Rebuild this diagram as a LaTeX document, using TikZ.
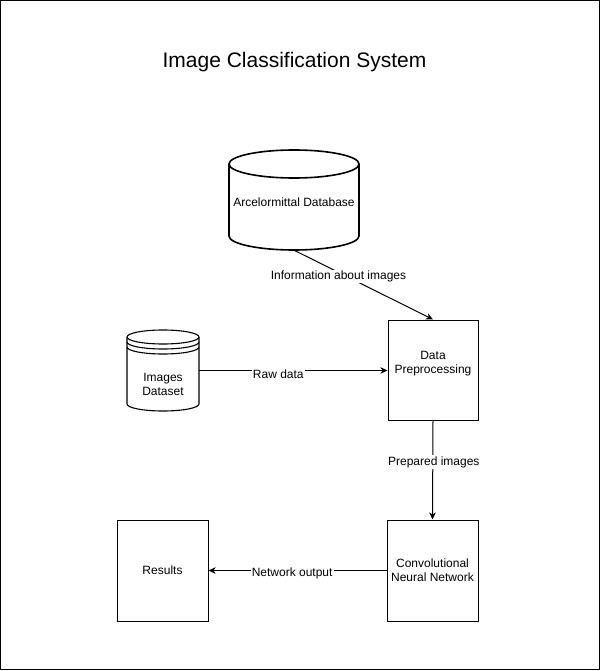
\documentclass[tikz,border=0pt]{standalone}
\usepackage{fontspec}
\setmainfont{Liberation Sans}
\usetikzlibrary{arrows.meta}
\begin{document}
\begin{tikzpicture}[x=1pt,y=-1pt,
  boxnode/.style={draw,line width=1pt,minimum width=91pt,minimum height=101pt,inner sep=0pt,align=center,font=\fontsize{12}{14}\selectfont},
  ghost/.style={inner sep=0pt,align=center,font=\fontsize{12}{14}\selectfont},
  cyl/.style={line width=1.6pt},
  conn/.style={line width=1pt,-{Stealth[length=7pt,width=6.5pt,inset=2pt]}},
  elabel/.style={fill=white,inner sep=1pt,font=\fontsize{12}{14}\selectfont}]
\useasboundingbox (0,0) rectangle (601,671);
\draw[line width=1pt] (0.5,0.5) rectangle (599.5,669.5);
% title
\node[font=\fontsize{21}{25}\selectfont] (title) at (294.5,62) {Image Classification System};
% big cylinder
\node[ghost,minimum width=130pt,minimum height=100pt] (db) at (294,200) {};
\draw[cyl] (294,164) ellipse [x radius=65,y radius=14];
\draw[cyl] (229,164) -- (229,236) arc[start angle=180,end angle=0,x radius=65,y radius=14] -- (359,164);
\node[ghost] (dbt) at (294,202) {Arcelormittal Database};
% datastore
\node[ghost,minimum width=72pt,minimum height=81pt] (ds) at (163,370.5) {};
\draw[line width=1.1pt] (163,337) ellipse [x radius=36,y radius=7];
\draw[line width=1.1pt] (127,342) arc[start angle=180,end angle=0,x radius=36,y radius=7];
\draw[line width=1.1pt] (127,347) arc[start angle=180,end angle=0,x radius=36,y radius=7];
\draw[line width=1.1pt] (127,337) -- (127,404) arc[start angle=180,end angle=0,x radius=36,y radius=7] -- (199,337);
\node[ghost] (dst) at (163,384) {Images\\Dataset};
% boxes
\node[boxnode,minimum width=90pt,minimum height=100pt] (prep) at (433,370) {};
\node[ghost] (prept) at (433,363.5) {Data\\Preprocessing};
\node[boxnode] (cnn) at (432.5,570.5) {Convolutional\\Neural Network};
\node[boxnode] (res) at (162.5,570.5) {Results};
% connectors
\draw[conn] (db.south) -- node[elabel,pos=0.32,yshift=-4pt] {Information about images} (prep.north);
\draw[conn] (ds.east) -- node[elabel,pos=0.42,yshift=-4pt] {Raw data} (prep.west |- ds.east);
\draw[conn] (prep.south) -- node[elabel,pos=0.42,xshift=1pt] {Prepared images} (cnn.north);
\draw[conn] (cnn.west) -- node[elabel,pos=0.53,yshift=-3pt] {Network output} (res.east);
\end{tikzpicture}
\end{document}
